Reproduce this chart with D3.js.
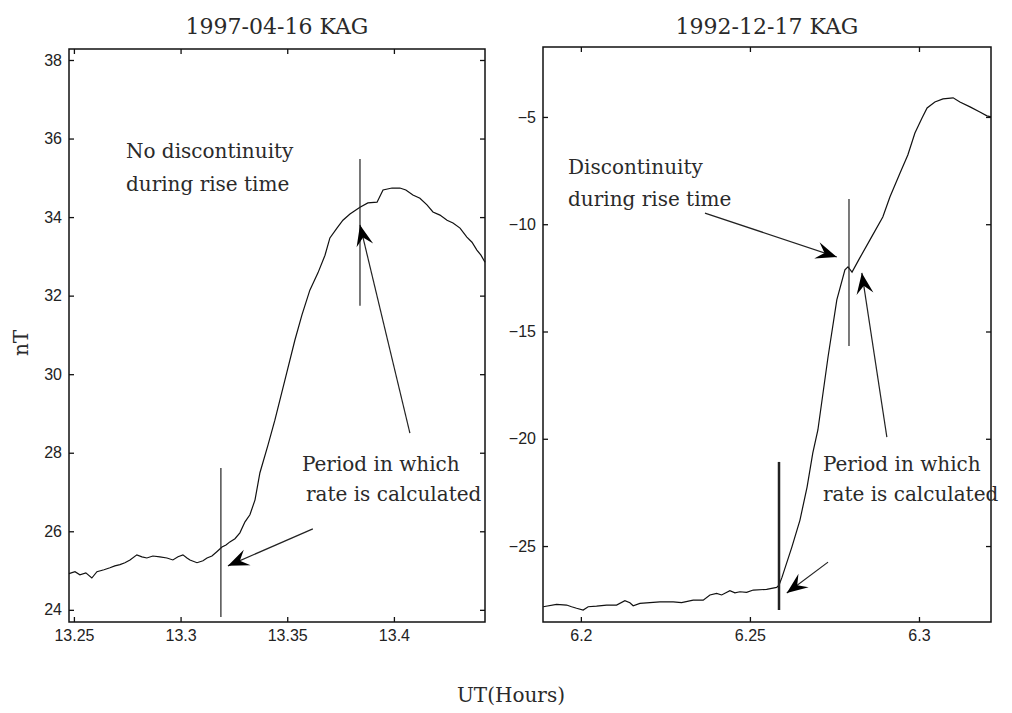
<!DOCTYPE html>
<html><head><meta charset="utf-8">
<script src="https://cdn.jsdelivr.net/npm/d3@7/dist/d3.min.js"></script>
<style>body{margin:0;background:#fff}svg{display:block}</style>
</head><body>
<svg id="c" width="1012" height="713"></svg>
<script>
// ---------- data ----------
const leftTitle = "1997-04-16 KAG";
const rightTitle = "1992-12-17 KAG";
const yLabel = "nT";
const xLabel = "UT(Hours)";

const leftXTicks = [13.25, 13.3, 13.35, 13.4];
const leftXTickLabels = ["13.25", "13.3", "13.35", "13.4"];
const leftYTicks = [24, 26, 28, 30, 32, 34, 36, 38];
const rightXTicks = [6.2, 6.25, 6.3];
const rightXTickLabels = ["6.2", "6.25", "6.3"];
const rightYTicks = [-25, -20, -15, -10, -5];

const leftXDomain = [13.2477, 13.4427];
const leftYDomain = [23.69, 38.28];
const rightXDomain = [6.1888, 6.3213];
const rightYDomain = [-28.54, -1.74];

const leftT = [13.2477,13.2505,13.2528,13.2556,13.2584,13.2608,13.2641,13.2669,13.2692,13.2716,
  13.2739,13.2763,13.2795,13.2819,13.2842,13.2870,13.2903,13.2936,13.2964,13.2988,
  13.3011,13.3030,13.3044,13.3077,13.3105,13.3124,13.3147,13.3170,13.3194,13.3213,
  13.3231,13.3255,13.3278,13.3302,13.3325,13.3349,13.3372,13.3410,13.3442,13.3489,
  13.3536,13.3569,13.3606,13.3644,13.3677,13.3700,13.3733,13.3761,13.3794,13.3841,
  13.3878,13.3921,13.3949,13.3991,13.4028,13.4056,13.4089,13.4122,13.4155,13.4183,
  13.4216,13.4249,13.4277,13.4310,13.4342,13.4366,13.4389,13.4408,13.4427];
const leftV = [24.92,24.97,24.89,24.94,24.81,24.97,25.02,25.07,25.12,25.15,
  25.20,25.27,25.40,25.35,25.32,25.37,25.35,25.32,25.27,25.35,
  25.40,25.32,25.27,25.20,25.25,25.32,25.37,25.48,25.60,25.65,
  25.73,25.81,25.96,26.24,26.42,26.80,27.49,28.20,28.83,29.85,
  30.87,31.51,32.14,32.58,33.03,33.47,33.72,33.92,34.08,34.25,
  34.36,34.38,34.69,34.74,34.74,34.69,34.56,34.48,34.31,34.13,
  34.05,33.92,33.85,33.72,33.49,33.36,33.16,33.03,32.85];

const rightT = [6.18885,6.19281,6.19577,6.19725,6.19873,6.20068,6.20216,6.20464,6.20760,6.21056,
  6.21302,6.21450,6.21547,6.21746,6.22041,6.22337,6.22731,6.22979,6.23322,6.23618,
  6.23817,6.24015,6.24163,6.24408,6.24556,6.24704,6.24902,6.25098,6.25494,6.25790,
  6.2586,6.2595,6.2624,6.2648,6.2669,6.2686,6.2701,
  6.2731,6.2757,6.2781,6.2790,6.2802,6.2825,6.2855,6.2893,6.2914,6.2944,
  6.2967,6.2988,6.3009,6.3024,6.3047,6.3071,6.3101,6.3121,6.3151,6.3180,
  6.3201,6.3213];
const rightV = [-27.83,-27.72,-27.75,-27.83,-27.90,-27.98,-27.83,-27.80,-27.75,-27.75,
  -27.55,-27.64,-27.78,-27.67,-27.64,-27.60,-27.60,-27.64,-27.52,-27.52,
  -27.28,-27.21,-27.28,-27.08,-27.18,-27.13,-27.16,-27.05,-27.02,-26.93,
  -26.82,-26.45,-25.05,-23.79,-22.25,-20.66,-19.59,
  -16.19,-13.53,-12.13,-11.99,-12.23,-11.57,-10.73,-9.66,-8.73,-7.61,
  -6.77,-5.75,-5.05,-4.58,-4.30,-4.16,-4.11,-4.30,-4.53,-4.77,
  -4.95,-5.00];

// vertical markers [t, v0, v1]
const leftMarkers = [[13.3189, 27.61, 23.82], [13.3841, 35.48, 31.74]];
const rightMarkers = [[6.2586, -21.08, -27.98], [6.2793, -8.82, -15.68]];
// annotation texts [t, v, text]
const leftNotes = [[13.2744, 35.50, "No discontinuity"], [13.2744, 34.66, "during rise time"],
  [13.3569, 27.54, "Period in which"], [13.3588, 26.77, "rate is calculated"]];
const rightNotes = [[6.1962, -7.66, "Discontinuity"], [6.1962, -9.15, "during rise time"],
  [6.2716, -21.50, "Period in which"], [6.2716, -22.90, "rate is calculated"]];
// arrows [t0, v0, t1(tip), v1(tip)]
const leftArrows = [[13.3620, 26.06, 13.3222, 25.12], [13.4075, 28.50, 13.3841, 33.80]];
const rightArrows = [[6.2367, -9.48, 6.2757, -11.53], [6.2905, -19.92, 6.2831, -12.27],
  [6.2731, -25.75, 6.2609, -27.19]];

// ---------- drawing ----------
const svg = d3.select("#c");
const serif = "'DejaVu Serif', serif";
const sans = "'Liberation Sans', Arial, sans-serif";

function panel(o) {
  const x = d3.scaleLinear().domain(o.xDomain).range([o.x0, o.x1]);
  const y = d3.scaleLinear().domain(o.yDomain).range([o.y1, o.y0]);
  const g = svg.append("g");

  const bottom = d3.axisBottom(x).tickValues(o.xTicks)
    .tickFormat((d, i) => o.xTickLabels[i]).tickSizeInner(-5).tickSizeOuter(0).tickPadding(8);
  const top = d3.axisTop(x).tickValues(o.xTicks).tickFormat("").tickSizeInner(-5).tickSizeOuter(0);
  const left = d3.axisLeft(y).tickValues(o.yTicks).tickFormat(o.yFmt).tickSizeInner(-5).tickSizeOuter(0).tickPadding(7);
  const right = d3.axisRight(y).tickValues(o.yTicks).tickFormat("").tickSizeInner(-5).tickSizeOuter(0);
  [[bottom, `translate(0,${o.y1})`], [top, `translate(0,${o.y0})`],
   [left, `translate(${o.x0},0)`], [right, `translate(${o.x1},0)`]].forEach(([ax, tr]) => {
    const a = g.append("g").attr("transform", tr).call(ax);
    a.select(".domain").remove();
    a.selectAll("line").attr("stroke", "#111").attr("stroke-width", 1.3);
    a.selectAll("text").attr("font-family", sans).attr("font-size", 16).attr("fill", "#222");
  });
  g.append("rect").attr("x", o.x0).attr("y", o.y0).attr("width", o.x1 - o.x0).attr("height", o.y1 - o.y0)
    .attr("fill", "none").attr("stroke", "#111").attr("stroke-width", 1.5);

  const pts = o.t.map((t, i) => [t, o.v[i]]);
  g.append("path").datum(pts)
    .attr("d", d3.line().x(d => x(d[0])).y(d => y(d[1])))
    .attr("fill", "none").attr("stroke", "#111").attr("stroke-width", 1.2);

  o.markers.forEach((m, i) => {
    g.append("line").attr("x1", x(m[0])).attr("x2", x(m[0])).attr("y1", y(m[1])).attr("y2", y(m[2]))
      .attr("stroke", "#222").attr("stroke-width", o.markerW[i]);
  });

  o.arrows.forEach(a => {
    const sx = x(a[0]), sy = y(a[1]), tx = x(a[2]), ty = y(a[3]);
    g.append("line").attr("x1", sx).attr("y1", sy).attr("x2", tx).attr("y2", ty)
      .attr("stroke", "#222").attr("stroke-width", 1.2);
    const ang = Math.atan2(ty - sy, tx - sx);
    const L = 21, W = 8.5, N = 13;
    const ux = Math.cos(ang), uy = Math.sin(ang), px = -uy, py = ux;
    const pts2 = [[tx, ty],
      [tx - L * ux + W * px, ty - L * uy + W * py],
      [tx - N * ux, ty - N * uy],
      [tx - L * ux - W * px, ty - L * uy - W * py]];
    g.append("polygon").attr("points", pts2.map(p => p.join(",")).join(" ")).attr("fill", "#000");
  });

  o.notes.forEach(n => {
    g.append("text").attr("x", x(n[0])).attr("y", y(n[1])).text(n[2])
      .attr("font-family", serif).attr("font-size", 20).attr("fill", "#2a2a2a");
  });

  g.append("text").attr("x", (o.x0 + o.x1) / 2).attr("y", 34).attr("text-anchor", "middle")
    .text(o.title).attr("font-family", serif).attr("font-size", 22).attr("fill", "#2a2a2a");
}

panel({x0: 69, x1: 485, y0: 49, y1: 622, xDomain: leftXDomain, yDomain: leftYDomain,
  xTicks: leftXTicks, xTickLabels: leftXTickLabels, yTicks: leftYTicks, yFmt: d => String(d),
  t: leftT, v: leftV, markers: leftMarkers, markerW: [1.2, 1.2], arrows: leftArrows, notes: leftNotes,
  title: leftTitle});
panel({x0: 543, x1: 991, y0: 47, y1: 622, xDomain: rightXDomain, yDomain: rightYDomain,
  xTicks: rightXTicks, xTickLabels: rightXTickLabels, yTicks: rightYTicks, yFmt: d => "\u2212" + Math.abs(d),
  t: rightT, v: rightV, markers: rightMarkers, markerW: [2.5, 1.2], arrows: rightArrows, notes: rightNotes,
  title: rightTitle});

svg.append("text").attr("transform", "translate(28,343) rotate(-90)").attr("text-anchor", "middle")
  .text(yLabel).attr("font-family", serif).attr("font-size", 20).attr("fill", "#2a2a2a");
svg.append("text").attr("x", 511).attr("y", 702).attr("text-anchor", "middle")
  .text(xLabel).attr("font-family", serif).attr("font-size", 20).attr("fill", "#2a2a2a");
</script>
</body></html>
